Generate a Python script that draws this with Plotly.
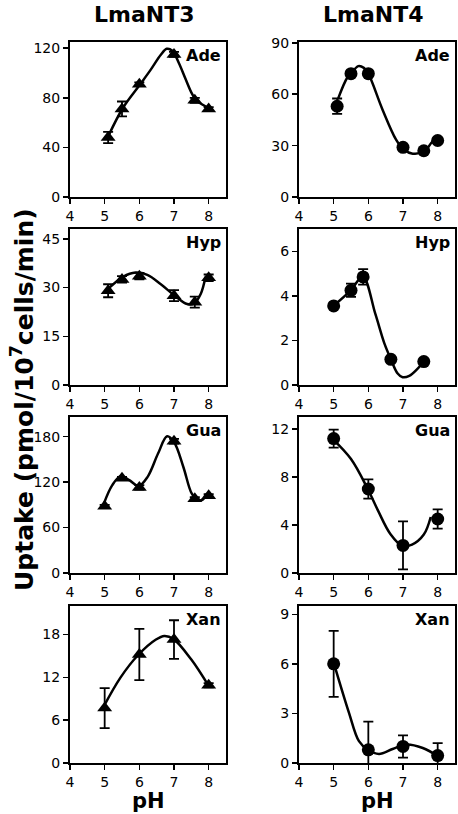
import plotly.graph_objects as go

# ---------------- data ----------------
# LmaNT3 (triangles)
nt3_ade_ph = [5.1, 5.5, 6.0, 7.0, 7.6, 8.0]
nt3_ade_val = [48, 71, 91, 115, 78, 71]
nt3_ade_err = [4.5, 6, 1.5, 2, 2, 1.5]
nt3_ade_curve_ph = [5.12, 5.53, 6.02, 6.33, 6.62, 6.79, 6.95, 7.14, 7.34, 7.53, 7.67, 8.03]
nt3_ade_curve_val = [50, 72, 90.7, 102.7, 114.7, 119.5, 118, 108, 94.7, 82.7, 77.3, 71.5]

nt3_hyp_ph = [5.1, 5.5, 6.0, 7.0, 7.6, 8.0]
nt3_hyp_val = [29, 32.5, 33.5, 27.5, 25.5, 33]
nt3_hyp_err = [2, 1, 1, 1.7, 1.7, 1]
nt3_hyp_curve_ph = [5.12, 5.53, 5.89, 6.23, 6.62, 7.02, 7.38, 7.58, 7.77, 7.91]
nt3_hyp_curve_val = [29.8, 33.3, 34.6, 33.9, 31.0, 27.5, 24.9, 25.1, 28, 33.3]

nt3_gua_ph = [5.0, 5.5, 6.0, 7.0, 7.6, 8.0]
nt3_gua_val = [88, 125, 113, 174, 98, 102]
nt3_gua_err = [2, 2, 3, 3, 2, 2]
nt3_gua_curve_ph = [4.98, 5.22, 5.46, 5.71, 5.98, 6.24, 6.54, 6.8, 7.0, 7.27, 7.51, 7.68, 7.83, 7.95]
nt3_gua_curve_val = [92, 116, 127.9, 122.6, 114.8, 127, 157.7, 180.5, 173, 140, 105, 96.4, 97, 104]

nt3_xan_ph = [5, 6, 7, 8]
nt3_xan_val = [7.7, 15.2, 17.3, 10.9]
nt3_xan_err = [2.8, 3.6, 2.7, 0.3]
nt3_xan_curve_ph = [4.97, 5.46, 5.96, 6.48, 6.72, 6.98, 7.5, 8.0]
nt3_xan_curve_val = [7.9, 12.0, 15.1, 17.3, 17.8, 17.4, 14.5, 10.8]

# LmaNT4 (circles)
nt4_ade_ph = [5.1, 5.5, 6.0, 7.0, 7.6, 8.0]
nt4_ade_val = [53, 72, 72, 29, 27, 33]
nt4_ade_err = [4.5, 1.5, 1.5, 1.5, 1.5, 1.5]
nt4_ade_curve_ph = [5.12, 5.39, 5.5, 5.71, 5.87, 6.0, 6.41, 6.8, 7.02, 7.28, 7.62, 7.86, 8.0]
nt4_ade_curve_val = [57, 69.6, 72, 76.4, 75.4, 72, 51, 33.5, 27.7, 25.3, 26.7, 32.5, 33.5]

nt4_hyp_ph = [5.0, 5.5, 5.85, 6.65, 7.6]
nt4_hyp_val = [3.55, 4.25, 4.85, 1.15, 1.05]
nt4_hyp_err = [0.1, 0.3, 0.35, 0.1, 0.1]
nt4_hyp_curve_ph = [5.0, 5.5, 5.84, 6.2, 6.46, 6.65, 6.84, 6.99, 7.18, 7.43, 7.57]
nt4_hyp_curve_val = [3.56, 4.26, 4.86, 3.2, 1.88, 1.16, 0.53, 0.35, 0.41, 0.75, 1.0]

nt4_gua_ph = [5, 6, 7, 8]
nt4_gua_val = [11.2, 7.0, 2.3, 4.5]
nt4_gua_err = [0.75, 0.8, 2.0, 0.8]
nt4_gua_curve_ph = [4.96, 5.5, 5.97, 6.28, 6.63, 6.99, 7.26, 7.6, 7.8]
nt4_gua_curve_val = [11.2, 9.5, 7.08, 5.2, 3.28, 2.25, 2.36, 3.2, 4.67]

nt4_xan_ph = [5, 6, 7, 8]
nt4_xan_val = [6.0, 0.8, 1.0, 0.45]
nt4_xan_err = [2.0, 1.7, 0.67, 0.75]
nt4_xan_curve_ph = [5.02, 5.44, 5.73, 6.0, 6.31, 6.7, 7.09, 7.57, 8.01]
nt4_xan_curve_val = [5.94, 3.05, 1.32, 0.77, 0.55, 0.85, 1.12, 0.91, 0.41]

x_ticks = [4, 5, 6, 7, 8]
column_titles = ["LmaNT3", "LmaNT4"]
substrates = ["Ade", "Hyp", "Gua", "Xan"]

# per panel y-axis ticks / ranges
left_yticks = [[0, 40, 80, 120], [0, 15, 30, 45], [0, 60, 120, 180], [0, 6, 12, 18]]
left_yrange = [[0, 125], [0, 48], [0, 206], [0, 22]]
right_yticks = [[0, 30, 60, 90], [0, 2, 4, 6], [0, 4, 8, 12], [0, 3, 6, 9]]
right_yrange = [[0, 90.5], [0, 7], [0, 13], [0, 9.5]]

left_data = [
    (nt3_ade_ph, nt3_ade_val, nt3_ade_err, nt3_ade_curve_ph, nt3_ade_curve_val),
    (nt3_hyp_ph, nt3_hyp_val, nt3_hyp_err, nt3_hyp_curve_ph, nt3_hyp_curve_val),
    (nt3_gua_ph, nt3_gua_val, nt3_gua_err, nt3_gua_curve_ph, nt3_gua_curve_val),
    (nt3_xan_ph, nt3_xan_val, nt3_xan_err, nt3_xan_curve_ph, nt3_xan_curve_val),
]
right_data = [
    (nt4_ade_ph, nt4_ade_val, nt4_ade_err, nt4_ade_curve_ph, nt4_ade_curve_val),
    (nt4_hyp_ph, nt4_hyp_val, nt4_hyp_err, nt4_hyp_curve_ph, nt4_hyp_curve_val),
    (nt4_gua_ph, nt4_gua_val, nt4_gua_err, nt4_gua_curve_ph, nt4_gua_curve_val),
    (nt4_xan_ph, nt4_xan_val, nt4_xan_err, nt4_xan_curve_ph, nt4_xan_curve_val),
]

# ---------------- layout geometry (pixels) ----------------
W, H = 458, 814
col_px = [(70, 226), (299, 455)]
row_px = [(42, 197), (229, 385), (417, 573), (606, 763)]

FONT = "DejaVu Sans"
fig = go.Figure()
layout = dict(
    template="none",
    width=W, height=H, autosize=False,
    margin=dict(l=0, r=0, t=0, b=0, pad=0, autoexpand=False),
    paper_bgcolor="white", plot_bgcolor="white", showlegend=False,
    font=dict(family=FONT, color="black", size=14),
)
annotations = []

idx = 0
for c in range(2):
    data = left_data if c == 0 else right_data
    yticks = left_yticks if c == 0 else right_yticks
    yranges = left_yrange if c == 0 else right_yrange
    symbol = "triangle-up" if c == 0 else "circle"
    for r in range(4):
        idx += 1
        xa = "x" if idx == 1 else f"x{idx}"
        ya = "y" if idx == 1 else f"y{idx}"
        ph, val, err, cph, cval = data[r]
        fig.add_trace(go.Scatter(
            x=cph, y=cval, mode="lines", xaxis=xa, yaxis=ya,
            line=dict(color="black", width=2.5, shape="spline", smoothing=1.0),
            hoverinfo="skip"))
        fig.add_trace(go.Scatter(
            x=ph, y=val, mode="markers", xaxis=xa, yaxis=ya,
            marker=dict(symbol=symbol, size=13, color="black"),
            error_y=dict(type="data", array=err, visible=True, color="black",
                         thickness=1.8, width=5)))
        x0, x1 = col_px[c]
        t, b = row_px[r]
        axis_common = dict(showline=True, linecolor="black", linewidth=2, mirror=True,
                           ticks="outside", ticklen=5, tickwidth=1.5, tickcolor="black",
                           showgrid=False, zeroline=False, automargin=False,
                           tickfont=dict(family=FONT, size=14, color="black"))
        layout["xaxis" if idx == 1 else f"xaxis{idx}"] = dict(
            domain=[x0 / W, x1 / W], anchor=ya, range=[4, 8.5],
            tickvals=x_ticks, **axis_common)
        layout["yaxis" if idx == 1 else f"yaxis{idx}"] = dict(
            domain=[1 - b / H, 1 - t / H], anchor=xa, range=yranges[r],
            tickvals=yticks[r], **axis_common)
        annotations.append(dict(
            text=f"<b>{substrates[r]}</b>", xref="paper", yref="paper",
            x=(x1 - 3) / W, y=1 - (t + 2) / H, xanchor="right", yanchor="top",
            showarrow=False, font=dict(family=FONT, size=16, color="black")))
    # column titles and pH labels
    cx = (col_px[c][0] + col_px[c][1]) / 2 - 4
    annotations.append(dict(
        text=f"<b>{column_titles[c]}</b>", xref="paper", yref="paper",
        x=cx / W, y=1.0, xanchor="center", yanchor="top",
        showarrow=False, font=dict(family=FONT, size=22, color="black")))
    annotations.append(dict(
        text="<b>pH</b>", xref="paper", yref="paper",
        x=((col_px[c][0] + col_px[c][1]) / 2) / W, y=0.0,
        xanchor="center", yanchor="bottom", borderpad=0,
        showarrow=False, font=dict(family=FONT, size=21, color="black")))

annotations.append(dict(
    text="<b>Uptake (pmol/10<sup>7</sup>cells/min)</b>", xref="paper", yref="paper",
    x=22 / W, y=1 - 400 / H, xanchor="center", yanchor="middle", textangle=-90,
    showarrow=False, font=dict(family=FONT, size=25, color="black")))

layout["annotations"] = annotations
fig.update_layout(**layout)
fig.write_html(
    "out.html",
    config={"displayModeBar": False, "staticPlot": True},
    post_script="document.body.style.margin='0px';document.body.style.overflow='hidden';",
)
